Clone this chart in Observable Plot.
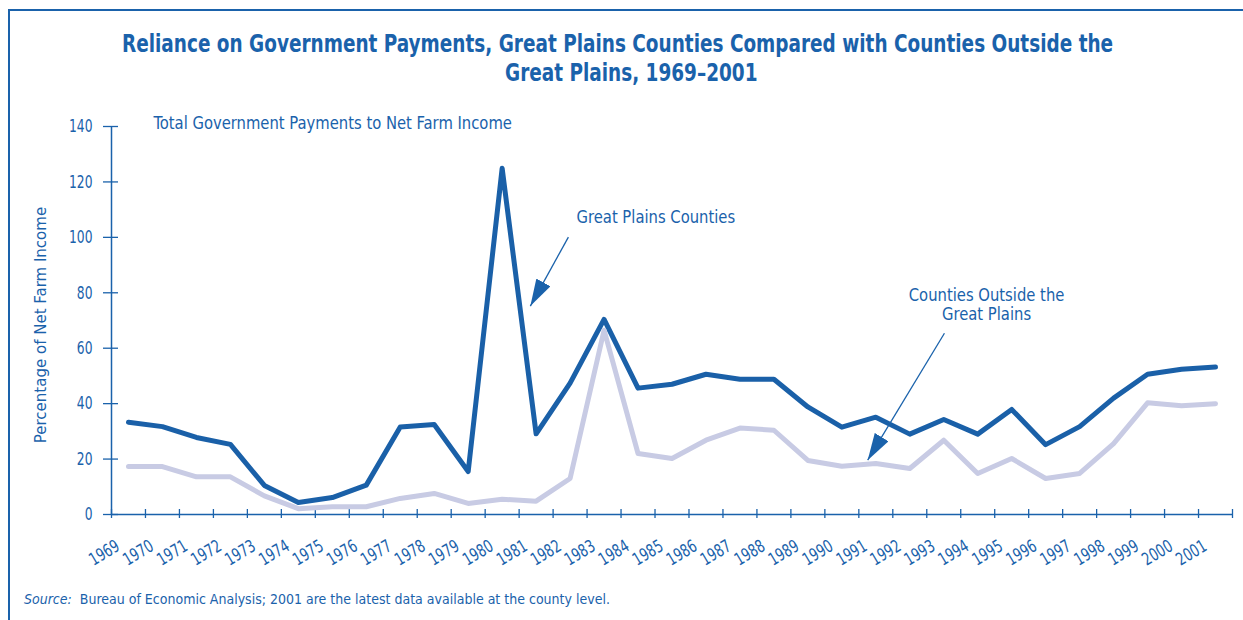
<!DOCTYPE html>
<html>
<head>
<meta charset="utf-8">
<script src="https://cdn.jsdelivr.net/npm/d3@7"></script>
<script src="https://cdn.jsdelivr.net/npm/@observablehq/plot@0.6"></script>
<style>
  html, body { margin: 0; padding: 0; background: #fff; }
  body { width: 1243px; height: 620px; position: relative; overflow: hidden;
         font-family: "DejaVu Sans Condensed", "DejaVu Sans", sans-serif; color: #1a62ab; }
  #frame { position: absolute; left: 8px; top: 9px; width: 1300px; height: 700px;
           border-left: 2.5px solid #1a62ab; border-top: 2.5px solid #1a62ab; }
  .t { position: absolute; font-weight: bold; font-size: 25px; white-space: nowrap; line-height: 1;
       transform-origin: 0 0; }
  #ylab { position: absolute; left: 40px; top: 325px; font-size: 16.7px; white-space: nowrap;
          transform: translate(-50%, -50%) rotate(-90deg); }
  #src { position: absolute; left: 24px; top: 591px; font-size: 14px; white-space: nowrap; }
  #chart { position: absolute; left: 0; top: 90px; }
</style>
</head>
<body>
<div id="frame"></div>
<div class="t" id="t1">Reliance on Government Payments, Great Plains Counties Compared with Counties Outside the</div>
<div class="t" id="t2">Great Plains, 1969–2001</div>
<div id="ylab">Percentage of Net Farm Income</div>
<div id="src"><i>Source:</i>&nbsp; Bureau of Economic Analysis; 2001 are the latest data available at the county level.</div>
<div id="chart"></div>
<script>
const years = [1969,1970,1971,1972,1973,1974,1975,1976,1977,1978,1979,1980,1981,1982,1983,1984,1985,1986,1987,1988,1989,1990,1991,1992,1993,1994,1995,1996,1997,1998,1999,2000,2001];
const greatPlains = [33.3,31.7,27.8,25.3,10.5,4.3,6.1,10.6,31.6,32.5,15.5,124.9,29.1,47.4,70.4,45.6,47.0,50.6,48.8,48.8,38.8,31.5,35.1,29.0,34.3,29.0,37.9,25.2,31.7,42.0,50.6,52.4,53.2];
const outside = [17.3,17.3,13.6,13.6,6.7,2.1,2.8,2.8,5.8,7.6,4.0,5.5,4.8,13.0,66.5,22.0,20.2,26.8,31.2,30.4,19.5,17.4,18.4,16.6,26.8,14.8,20.2,13.0,14.8,25.6,40.3,39.2,40.0];
const yTicks = [0,20,40,60,80,100,120,140];
const xBounds = [...years.map(y => y - 0.5), years[years.length - 1] + 0.5];
const subtitle = "Total Government Payments to Net Farm Income";
const gpLabel = [{text: "Great Plains Counties", x: 1982.19, y: 105.2}];
const outLabel = [{text: "Counties Outside the\nGreat Plains", x: 1994.26, y: 70.1}];
const arrows = [
  {x1: 1981.95, y1: 100.1, x2: 1980.83, y2: 75.2},
  {x1: 1993.02, y1: 65.4, x2: 1990.76, y2: 19.6}
];

const blue = "#1a62ab";
const dark = "#1a60a8";
const light = "#c8cbe4";
const font = '"DejaVu Sans Condensed", "DejaVu Sans", sans-serif';

const rows = years.map((yr, i) => ({year: yr, gp: greatPlains[i], out: outside[i]}));

function filledHead(color) {
  return d3.create("svg:marker")
    .attr("viewBox", "-27 -8 27 16")
    .attr("markerWidth", 27)
    .attr("markerHeight", 16)
    .attr("markerUnits", "userSpaceOnUse")
    .attr("refX", 0).attr("refY", 0)
    .attr("orient", "auto")
    .attr("fill", color)
    .attr("stroke", "none")
    .call(m => m.append("path").attr("d", "M-27,-8L0,0L-27,8Z"))
    .node();
}

const chart = Plot.plot({
  width: 1243,
  height: 490,
  marginTop: 36,
  marginBottom: 66,
  marginLeft: 111,
  marginRight: 11,
  style: {fontFamily: font, color: blue, background: "transparent", overflow: "visible"},
  x: {domain: [xBounds[0], xBounds[xBounds.length - 1]], axis: null},
  y: {domain: [0, 140], axis: null},
  marks: [
    Plot.ruleY([0], {stroke: blue, strokeWidth: 1.5}),
    Plot.ruleX([xBounds[0]], {stroke: blue, strokeWidth: 1.5}),
    Plot.axisY(yTicks, {tickSize: 15, tickPadding: 11, dx: 7, fontSize: 18, stroke: blue, strokeWidth: 1.3}),
    Plot.axisX(xBounds, {tickSize: 9, dy: -5, tickFormat: () => "", stroke: blue, strokeWidth: 1.3}),
    Plot.text(years, {x: d => d, text: d => String(d), frameAnchor: "bottom", dx: -7.5, dy: 35, rotate: -31,
      textAnchor: "end", lineAnchor: "bottom", fontSize: 17.5, fill: blue}),
    Plot.lineY(rows, {x: "year", y: "gp", stroke: dark, strokeWidth: 5}),
    Plot.lineY(rows, {x: "year", y: "out", stroke: light, strokeWidth: 5}),
    Plot.text([subtitle], {frameAnchor: "top-left", dx: 42, dy: 2, textAnchor: "start", lineAnchor: "bottom", fontSize: 17.5, fill: blue}),
    Plot.text(gpLabel, {x: "x", y: "y", text: "text", textAnchor: "start", lineAnchor: "bottom", fontSize: 17.5, fill: blue}),
    Plot.text(outLabel, {x: "x", y: "y", text: "text", textAnchor: "middle", lineAnchor: "bottom", lineHeight: 1.1, fontSize: 17.5, fill: blue}),
    Plot.link(arrows, {x1: "x1", y1: "y1", x2: "x2", y2: "y2", stroke: blue, strokeWidth: 1.3, markerEnd: filledHead})
  ]
});
document.getElementById("chart").appendChild(chart);

// condense glyphs horizontally (the original uses a condensed face)
function squeezeText(t, sx) {
  const tr = t.getAttribute("transform");
  if (tr) t.setAttribute("transform", tr + ` scale(${sx},1)`);
  else {
    const x = +(t.getAttribute("x") || 0), y = +(t.getAttribute("y") || 0);
    t.removeAttribute("x"); t.removeAttribute("y");
    t.setAttribute("transform", `translate(${x},${y}) scale(${sx},1)`);
  }
}
function squeezeTexts(texts, sx) { texts.forEach(t => squeezeText(t, sx)); }
const allTexts = Array.from(chart.querySelectorAll("text"));
const yTickTexts = allTexts.filter(t => yTicks.map(String).includes(t.textContent.trim()));
const xTickTexts = allTexts.filter(t => years.map(String).includes(t.textContent.trim()));
const wordTexts = allTexts.filter(t => !yTickTexts.includes(t) && !xTickTexts.includes(t) && t.textContent.trim() !== "");
squeezeTexts(yTickTexts, 0.76);
squeezeTexts(xTickTexts, 0.8);
squeezeTexts(wordTexts, 0.94);

// title lines: condensed, centred as in the original
const t1 = document.getElementById("t1"), t2 = document.getElementById("t2");
const sx = 991 / t1.offsetWidth;
t1.style.transform = `scaleX(${sx})`; t2.style.transform = `scaleX(${sx})`;
t1.style.left = (617 - t1.offsetWidth * sx / 2) + "px"; t1.style.top = "31px";
t2.style.left = (631 - t2.offsetWidth * sx / 2) + "px"; t2.style.top = "60px";
</script>
</body>
</html>
